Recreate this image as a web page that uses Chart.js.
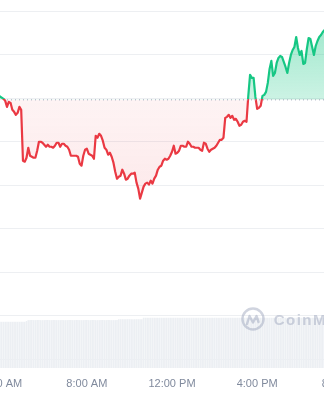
<!DOCTYPE html>
<html>
<head>
<meta charset="utf-8">
<script src="https://cdn.jsdelivr.net/npm/chart.js@4.4.0/dist/chart.umd.min.js"></script>
<style>
    html, body { margin: 0; padding: 0; background: #fff; overflow: hidden; width: 324px; height: 400px; }
    #wrap { position: absolute; left: -42px; top: 0; width: 428px; height: 400px; }
</style>
</head>
<body>
<div id="wrap"><canvas id="priceChart" width="428" height="400"></canvas></div>
<script>
// ============================================
// DATOS (precio cada 5 minutos desde START_TIME)
// ============================================

const START_TIME = '03:50';
const STEP_MINUTES = 5;

const prices = [
    2.4080, 2.4046, 2.4018, 2.3989, 2.3943, 2.3805, 2.3920, 2.3897, 2.3736, 2.3690,
    2.3621, 2.3667, 2.3805, 2.3736, 2.2566, 2.2543, 2.2634, 2.2864, 2.2680, 2.2657,
    2.2634, 2.2634, 2.2795, 2.3002, 2.3002, 2.2979, 2.2933, 2.2887, 2.2933, 2.2887,
    2.2887, 2.2864, 2.2910, 2.2979, 2.2979, 2.2887, 2.2956, 2.2956, 2.2910, 2.2887,
    2.2818, 2.2680, 2.2680, 2.2680, 2.2680, 2.2657, 2.2497, 2.2451, 2.2680, 2.2818,
    2.2841, 2.2726, 2.2703, 2.2680, 2.2611, 2.3139, 2.3093, 2.3185, 2.3139, 2.3025,
    2.2864, 2.2818, 2.2703, 2.2749, 2.2657, 2.2520, 2.2313, 2.2152, 2.2198, 2.2221,
    2.2359, 2.2267, 2.2129, 2.2152, 2.2221, 2.2267, 2.2267, 2.2290, 2.2061, 2.1923,
    2.1693, 2.1831, 2.1969, 2.2038, 2.2061, 2.2015, 2.2106, 2.2038, 2.2152, 2.2221,
    2.2359, 2.2428, 2.2451, 2.2566, 2.2611, 2.2588, 2.2611, 2.2680, 2.2772, 2.2910,
    2.2726, 2.2749, 2.2795, 2.2910, 2.2910, 2.2887, 2.2887, 2.3002, 2.2956, 2.2887,
    2.2887, 2.2864, 2.2864, 2.2864, 2.2818, 2.2795, 2.2979, 2.2956, 2.2841, 2.2772,
    2.2818, 2.2841, 2.2864, 2.2910, 2.2979, 2.3047, 2.3047, 2.3093, 2.3552, 2.3575,
    2.3621, 2.3552, 2.3598, 2.3507, 2.3529, 2.3461, 2.3369, 2.3392, 2.3461, 2.3484,
    2.3461, 2.4057, 2.4539, 2.4471, 2.4471, 2.4034, 2.3759, 2.3782, 2.3828, 2.4057,
    2.4080, 2.4149, 2.4356, 2.4677, 2.4861, 2.4516, 2.4585, 2.4815, 2.4930, 2.4975,
    2.4953, 2.4838, 2.4723, 2.4585, 2.4815, 2.4998, 2.5113, 2.5182, 2.5412, 2.5159,
    2.4998, 2.5090, 2.4792, 2.4815, 2.5136, 2.5389, 2.5366, 2.5182, 2.4998, 2.5205,
    2.5320, 2.5412, 2.5457, 2.5526, 2.5572, 2.5595
];

// volumen 24h (millones), mismo intervalo que los precios
const volumes = [
    12.6, 12.6, 12.6, 12.6, 12.6, 12.6, 12.6, 12.6, 12.6, 12.6,
    12.6, 12.6, 12.6, 12.6, 12.6, 12.6, 12.8, 13.05, 13.05, 13.05,
    13.05, 13.05, 13.05, 13.05, 13.05, 13.05, 13.05, 13.05, 13.05, 13.05,
    13.05, 13.05, 13.05, 13.05, 13.05, 13.05, 13.05, 13.05, 13.05, 13.05,
    13.05, 13.05, 13.05, 13.05, 13.05, 13.05, 13.05, 13.05, 13.05, 13.05,
    13.05, 13.05, 13.05, 13.05, 13.05, 13.05, 13.05, 13.05, 13.05, 13.05,
    13.05, 13.05, 13.05, 13.05, 13.05, 13.05, 13.05, 13.05, 13.3, 13.3,
    13.3, 13.3, 13.3, 13.3, 13.3, 13.3, 13.3, 13.3, 13.3, 13.3,
    13.3, 13.3, 13.7, 13.7, 13.7, 13.7, 13.7, 13.7, 13.7, 13.7,
    13.7, 13.7, 13.7, 13.7, 13.7, 13.7, 13.7, 13.7, 13.7, 13.7,
    13.7, 13.7, 13.7, 13.7, 13.7, 13.7, 13.7, 13.7, 13.7, 13.7,
    13.7, 13.7, 13.7, 13.7, 13.7, 13.7, 13.7, 13.7, 13.7, 13.7,
    13.7, 13.7, 13.7, 13.7, 13.7, 13.7, 13.7, 13.7, 13.7, 13.7,
    13.7, 13.7, 13.7, 13.7, 13.7, 13.7, 13.7, 13.7, 13.7, 13.7,
    13.7, 13.7, 13.7, 13.7, 13.7, 13.7, 13.7, 13.7, 13.7, 13.7,
    13.7, 13.7, 13.7, 13.7, 13.7, 13.7, 13.7, 13.7, 13.7, 13.7,
    13.7, 13.7, 13.7, 13.7, 13.7, 13.7, 13.7, 13.7, 13.7, 13.7,
    13.7, 13.7, 13.7, 13.7, 13.7, 13.7, 13.7, 13.7, 13.7, 13.7,
    13.7, 13.7, 13.7, 13.7, 13.7, 13.7
];

const OPEN_PRICE = 2.3966;          // precio de apertura (linea punteada)
const BASELINE_FROM = '04:15';

const tickHours = [4, 8, 12, 16, 20];
const priceGrid = [1.8, 1.9, 2.0, 2.1, 2.2, 2.3, 2.4, 2.5, 2.6];

const X_MIN = 2, X_MAX = 22;
const Y_MIN = 1.7796, Y_MAX = 2.6238;
const VOL_MAX = 100;

const GREEN = '#16c784';
const RED = '#ea3943';

// ============================================
// UTILIDADES
// ============================================

function toHours(hhmm) {
    const [h, m] = hhmm.split(':').map(Number);
    return h + m / 60;
}

function formatHour(v) {
    const h = v % 24;
    const suffix = h >= 12 ? 'PM' : 'AM';
    let h12 = h % 12;
    if (h12 === 0) h12 = 12;
    return `${h12}:00 ${suffix}`;
}

const startH = toHours(START_TIME);
const times = prices.map((_, i) => startH + i * STEP_MINUTES / 60);
const pricePoints = prices.map((p, i) => ({ x: times[i], y: p }));
const volumePoints = volumes.map((v, i) => ({ x: times[i], y: v }));
const baselinePoints = [
    { x: toHours(BASELINE_FROM), y: OPEN_PRICE },
    { x: X_MAX, y: OPEN_PRICE }
];

// marca de agua
const watermark = {
    id: 'watermark',
    afterDatasetsDraw(chart) {
        const ctx = chart.ctx;
        const cx = 295, cy = 319;
        ctx.save();
        ctx.strokeStyle = 'rgba(150,160,185,0.45)';
        ctx.fillStyle = 'rgba(150,160,185,0.45)';
        ctx.lineWidth = 2.4;
        ctx.lineJoin = 'round';
        ctx.lineCap = 'round';
        ctx.beginPath();
        ctx.arc(cx, cy, 10.5, 0, Math.PI * 2);
        ctx.stroke();
        ctx.beginPath();
        ctx.moveTo(cx - 6, cy + 5);
        ctx.lineTo(cx - 3.5, cy - 3);
        ctx.lineTo(cx, cy + 3.5);
        ctx.lineTo(cx + 3.5, cy - 3);
        ctx.lineTo(cx + 5.5, cy + 3);
        ctx.stroke();
        ctx.font = "bold 15px 'Liberation Sans', Arial, sans-serif";
        ctx.letterSpacing = '1.5px';
        ctx.textBaseline = 'alphabetic';
        ctx.fillText('CoinMarketCap', 315.7, 325);
        ctx.restore();
    }
};

// ============================================
// GRAFICO
// ============================================

const ctx = document.getElementById('priceChart').getContext('2d');
const chart = new Chart(ctx, {
    type: 'line',
    data: {
        datasets: [
            {
                label: 'Apertura',
                data: baselinePoints,
                borderColor: '#a1a7bb',
                borderWidth: 1,
                borderDash: [1, 3],
                pointRadius: 0,
                fill: false,
                yAxisID: 'y',
                order: 0
            },
            {
                label: 'Precio',
                data: pricePoints,
                borderColor: GREEN,
                borderWidth: 2.2,
                borderJoinStyle: 'round',
                borderCapStyle: 'round',
                pointRadius: 0,
                tension: 0,
                fill: { target: { value: OPEN_PRICE }, above: 'rgba(22,199,132,0.3)', below: 'rgba(234,57,67,0.08)' },
                yAxisID: 'y',
                order: 1
            },
            {
                type: 'bar',
                label: 'Volumen',
                data: volumePoints,
                backgroundColor: '#eceff3',
                borderWidth: 0,
                barPercentage: 0.9,
                categoryPercentage: 1,
                yAxisID: 'yv',
                order: 2
            }
        ]
    },
    options: {
        responsive: false,
        animation: false,
        events: [],
        layout: { padding: { top: 0, bottom: 9, left: 0, right: 0 } },
        plugins: {
            legend: { display: false },
            tooltip: { enabled: false }
        },
        scales: {
            x: {
                type: 'linear',
                min: X_MIN,
                max: X_MAX,
                bounds: 'data',
                offset: false,
                grid: { display: false },
                border: { display: false },
                afterBuildTicks: axis => { axis.ticks = tickHours.map(v => ({ value: v })); },
                afterFit: axis => { axis.height = 23; },
                ticks: {
                    padding: 1,
                    maxRotation: 0,
                    autoSkip: false,
                    color: '#808a9d',
                    font: { family: "'Liberation Sans', Arial, sans-serif", size: 11 },
                    callback: v => formatHour(v)
                }
            },
            y: {
                type: 'linear',
                position: 'right',
                min: Y_MIN,
                max: Y_MAX,
                bounds: 'data',
                afterBuildTicks: axis => { axis.ticks = priceGrid.map(v => ({ value: v })); },
                grid: { color: '#edeff2', lineWidth: 1, drawTicks: false },
                border: { display: false },
                ticks: { display: false }
            },
            yv: {
                type: 'linear',
                display: false,
                min: 0,
                max: VOL_MAX
            }
        }
    },
    plugins: [watermark]
});

// colores verde/rojo segun apertura
function applyColors(chart) {
    const area = chart.chartArea;
    const yScale = chart.scales.y;
    const c = chart.ctx;
    const baseY = yScale.getPixelForValue(OPEN_PRICE);
    const f = (baseY - area.top) / (area.bottom - area.top);

    const line = c.createLinearGradient(0, area.top, 0, area.bottom);
    line.addColorStop(0, GREEN);
    line.addColorStop(f, GREEN);
    line.addColorStop(f, RED);
    line.addColorStop(1, RED);

    const topY = yScale.getPixelForValue(Math.max(...prices));
    const lowY = yScale.getPixelForValue(Math.min(...prices));
    const above = c.createLinearGradient(0, topY, 0, baseY);
    above.addColorStop(0, 'rgba(22,199,132,0.4)');
    above.addColorStop(1, 'rgba(22,199,132,0.22)');
    const below = c.createLinearGradient(0, baseY, 0, lowY);
    below.addColorStop(0, 'rgba(234,57,67,0.06)');
    below.addColorStop(1, 'rgba(234,57,67,0.11)');

    const ds = chart.data.datasets[1];
    ds.borderColor = line;
    ds.fill = { target: { value: OPEN_PRICE }, above: above, below: below };
    chart.update('none');
}

applyColors(chart);
</script>
</body>
</html>
